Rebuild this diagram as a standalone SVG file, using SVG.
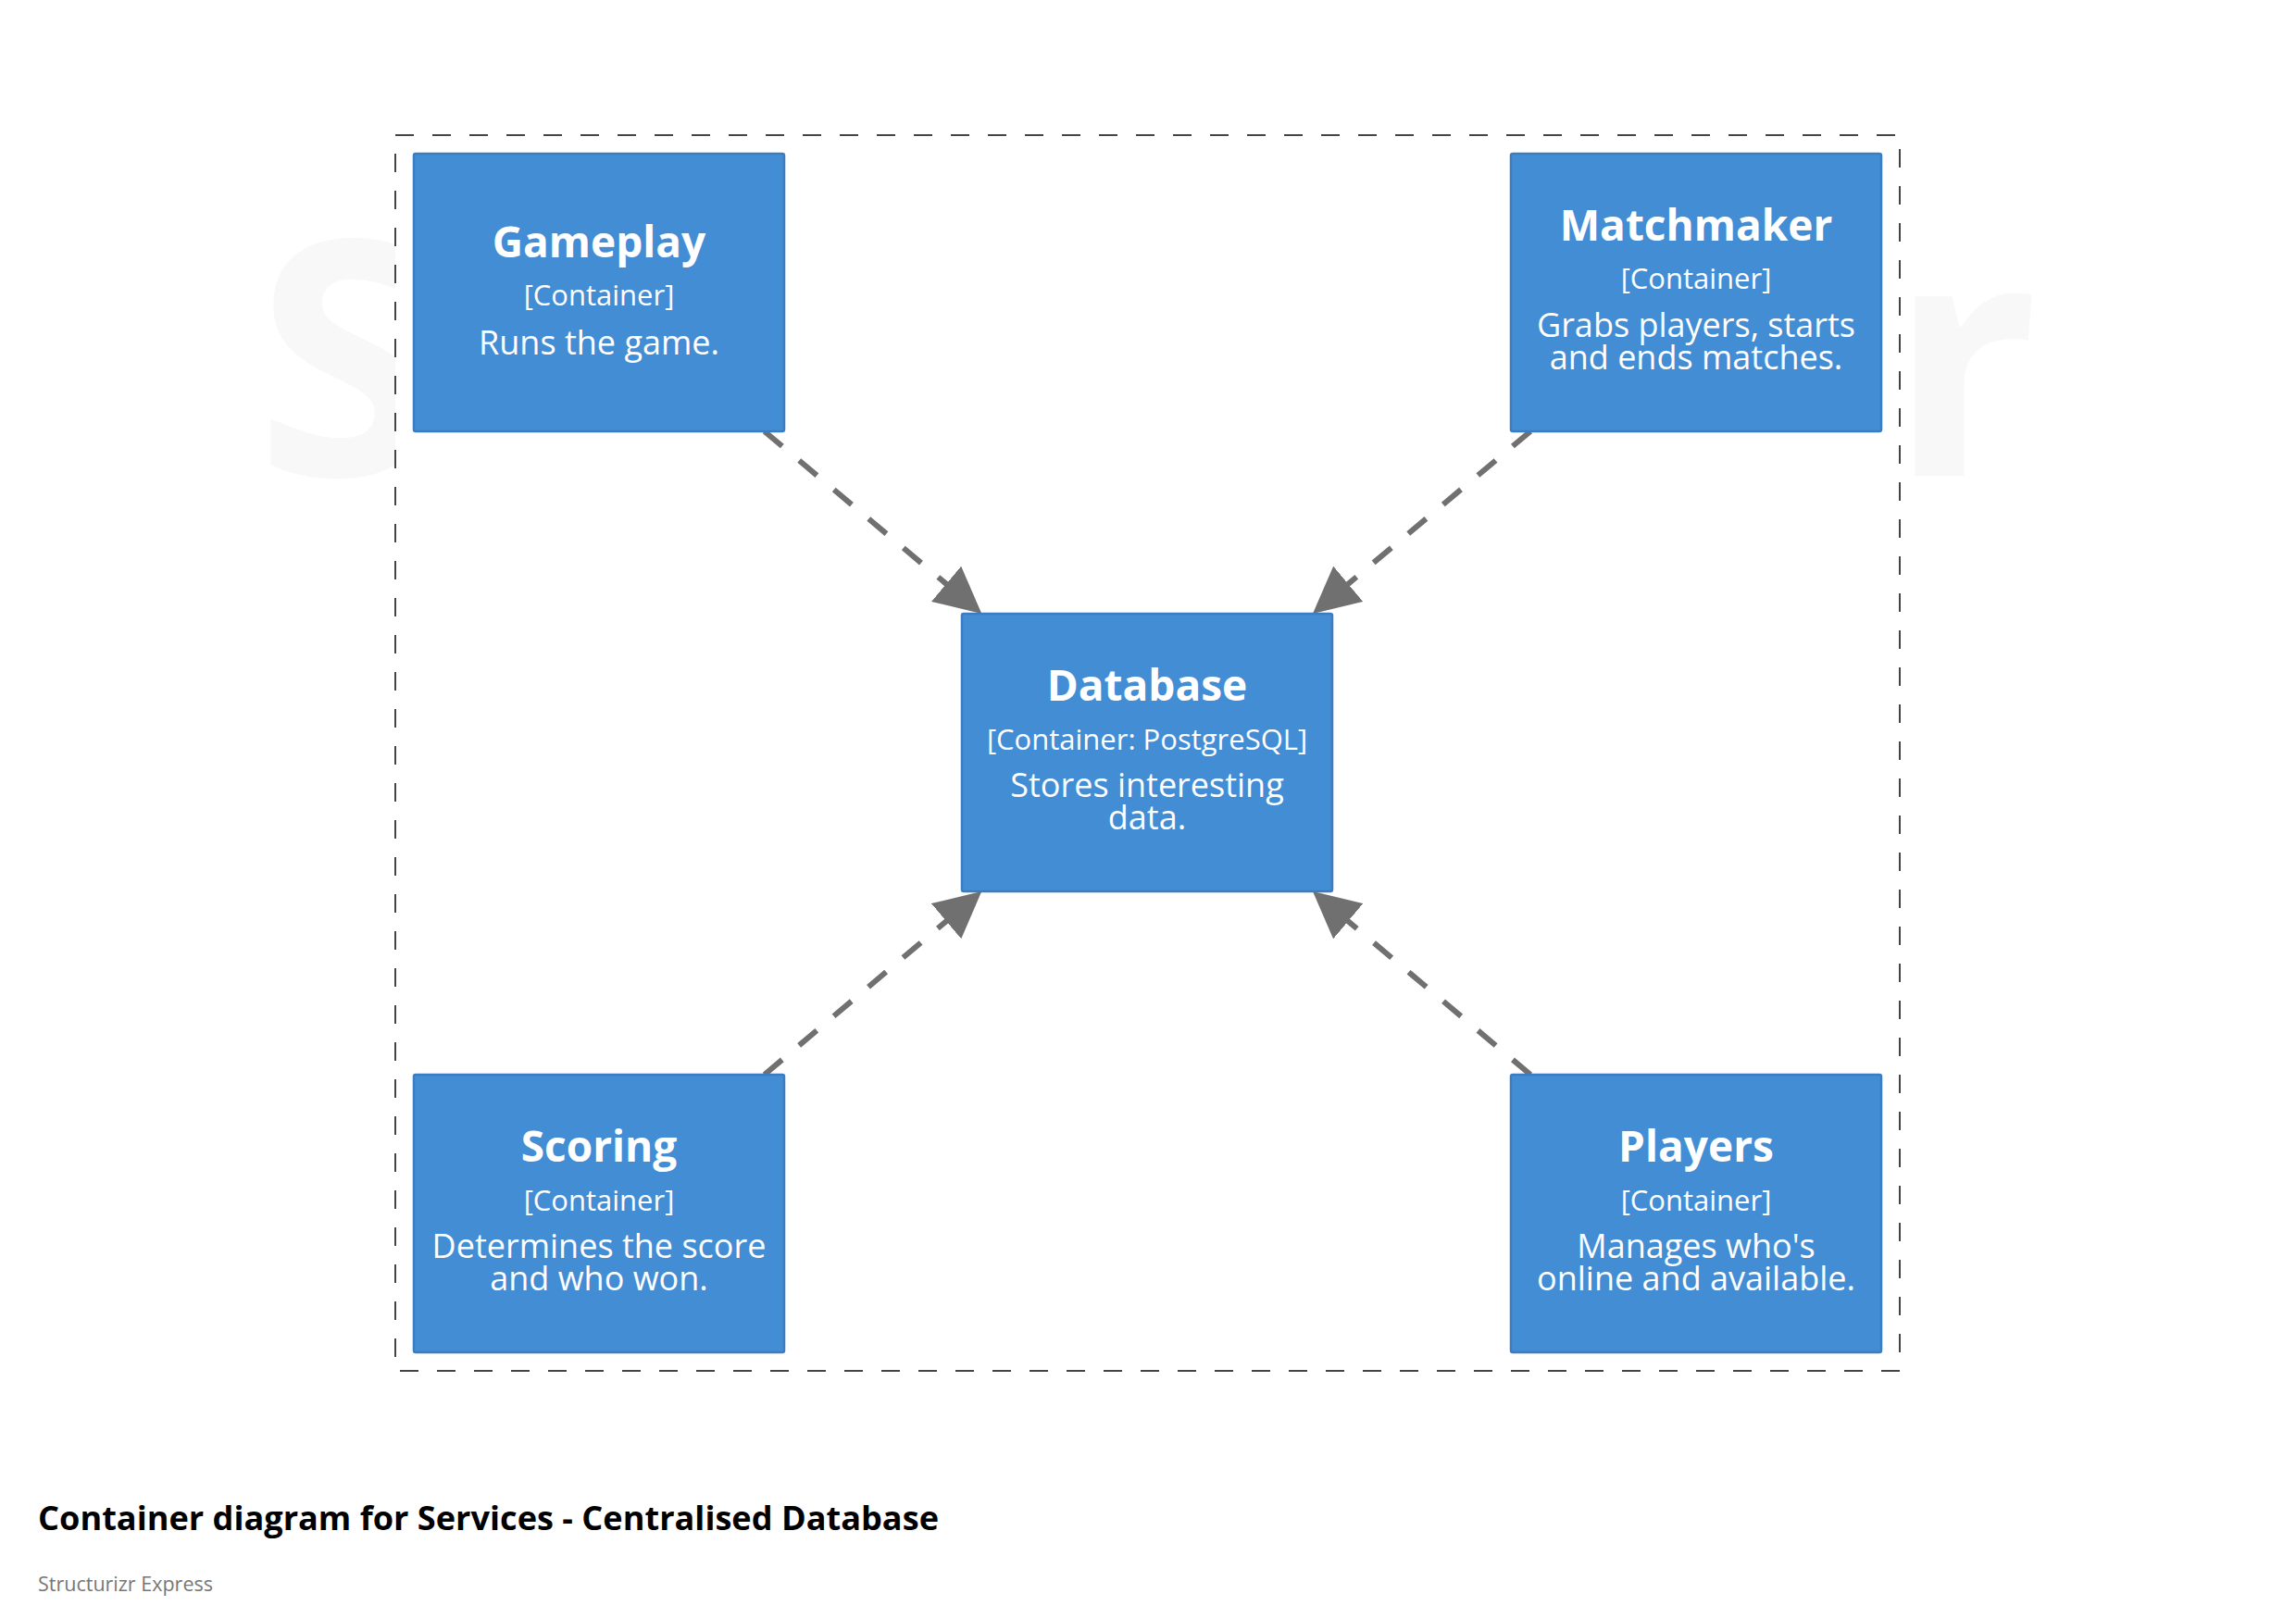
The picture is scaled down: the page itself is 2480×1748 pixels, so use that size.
<svg xmlns="http://www.w3.org/2000/svg" width="2480" height="1748" viewBox="0 0 2480 1748">
  <style>
    .box { fill: #438DD5; stroke: #3B7DC0; stroke-width: 2.5; }
    .name { font-family: "Open Sans", "Noto Sans", "Liberation Sans", sans-serif; font-weight: bold; font-size: 46px; fill: #ffffff; text-anchor: middle; }
    .type { font-family: "Open Sans", "Noto Sans", "Liberation Sans", sans-serif; font-size: 31px; fill: #ffffff; text-anchor: middle; }
    .desc { font-family: "Open Sans", "Noto Sans", "Liberation Sans", sans-serif; font-size: 36px; fill: #ffffff; text-anchor: middle; }
    .rel { fill: none; stroke: #707070; stroke-width: 6; stroke-dasharray: 25 24; marker-end: url(#arrow); }
    .boundary { fill: #ffffff; stroke: #444444; stroke-width: 2; stroke-dasharray: 20 20; }
    .watermark { font-family: "Open Sans", "Noto Sans", "Liberation Sans", sans-serif; font-weight: bold; font-size: 355px; fill: #f8f8f8; }
    .title { font-family: "Open Sans", "Noto Sans", "Liberation Sans", sans-serif; font-weight: bold; font-size: 35px; fill: #000000; }
    .subtitle { font-family: "Open Sans", "Noto Sans", "Liberation Sans", sans-serif; font-size: 21.5px; fill: #777777; }
  </style>
  <defs>
    <marker id="arrow" markerUnits="userSpaceOnUse" markerWidth="50" markerHeight="50" refX="25" refY="25" orient="auto" viewBox="0 0 50 50">
      <path d="M0,0 L50,25 L0,50 Z" fill="#707070"/>
    </marker>
  </defs>
  <rect x="0" y="0" width="2480" height="1748" fill="#ffffff"/>
  <text class="watermark" x="276" y="514">S</text>
  <text class="watermark" x="2202" y="514" text-anchor="end">r</text>
  <g id="boundary-services">
    <rect class="boundary" x="427" y="146" width="1625" height="1335"/>
  </g>
  <g id="connectors">
    <path class="rel" d="M825.7,466 L1041.2,646.9"/>
    <path class="rel" d="M1653.1,466 L1437.1,646.9"/>
    <path class="rel" d="M825.7,1161 L1041.2,979.1"/>
    <path class="rel" d="M1653.1,1161 L1437.1,979.1"/>
  </g>
  <g id="gameplay">
    <rect class="box" x="447" y="166" width="400" height="300" rx="2"/>
    <text class="name" x="647" y="278">Gameplay</text>
    <text class="type" x="647" y="330">[Container]</text>
    <text class="desc" x="647" y="383">Runs the game.</text>
  </g>
  <g id="matchmaker">
    <rect class="box" x="1632" y="166" width="400" height="300" rx="2"/>
    <text class="name" x="1832" y="260">Matchmaker</text>
    <text class="type" x="1832" y="312">[Container]</text>
    <text class="desc" x="1832" y="364">Grabs players, starts</text>
    <text class="desc" x="1832" y="399">and ends matches.</text>
  </g>
  <g id="database">
    <rect class="box" x="1039" y="663" width="400" height="300" rx="2"/>
    <text class="name" x="1239" y="757">Database</text>
    <text class="type" x="1239" y="810">[Container: PostgreSQL]</text>
    <text class="desc" x="1239" y="861">Stores interesting</text>
    <text class="desc" x="1239" y="896">data.</text>
  </g>
  <g id="scoring">
    <rect class="box" x="447" y="1161" width="400" height="300" rx="2"/>
    <text class="name" x="647" y="1255">Scoring</text>
    <text class="type" x="647" y="1308">[Container]</text>
    <text class="desc" x="647" y="1359">Determines the score</text>
    <text class="desc" x="647" y="1394">and who won.</text>
  </g>
  <g id="players">
    <rect class="box" x="1632" y="1161" width="400" height="300" rx="2"/>
    <text class="name" x="1832" y="1255">Players</text>
    <text class="type" x="1832" y="1308">[Container]</text>
    <text class="desc" x="1832" y="1359">Manages who's</text>
    <text class="desc" x="1832" y="1394">online and available.</text>
  </g>
  <text class="title" x="41" y="1653" textLength="973" lengthAdjust="spacingAndGlyphs">Container diagram for Services - Centralised Database</text>
  <text class="subtitle" x="41" y="1719">Structurizr Express</text>
</svg>
